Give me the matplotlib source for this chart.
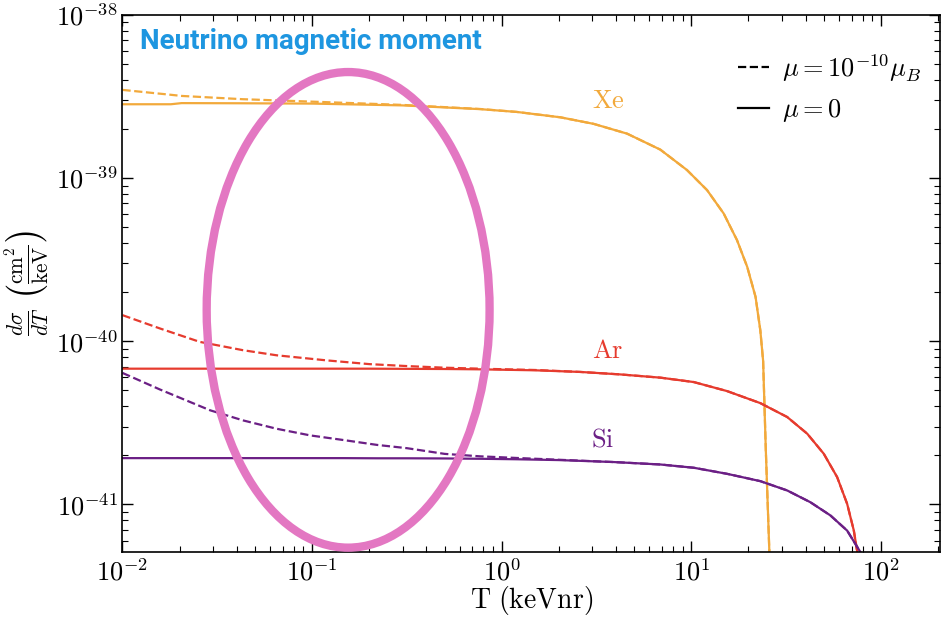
import matplotlib
matplotlib.use("Agg")
import matplotlib.pyplot as plt
from matplotlib.lines import Line2D
from matplotlib.patches import Ellipse
from matplotlib.ticker import FuncFormatter
import numpy as np

plt.rcParams["mathtext.fontset"] = "cm"
plt.rcParams["font.family"] = "serif"
plt.rcParams["font.serif"] = ["DejaVu Serif"]

# recoil energy T (keVnr) and log10(dsigma/dT)
T_xe = [0.01, 0.018, 0.0205, 0.043, 0.1, 0.3, 0.77, 1.2, 2.04, 3.05, 4.58,
        6.86, 9.48, 12.1, 14.8, 17.4, 19.7, 21.8, 23.1, 23.9, 24.7, 25.8, 26.2]
xe_solid = [-38.548, -38.548, -38.541, -38.542, -38.544, -38.555, -38.578,
            -38.595, -38.628, -38.668, -38.728, -38.826, -38.951, -39.074,
            -39.217, -39.380, -39.544, -39.728, -39.933, -40.12, -40.67,
            -41.30, -41.5]
xe_dashed = [-38.46, -38.49, -38.497, -38.517, -38.532, -38.552, -38.577,
             -38.595, -38.628, -38.668, -38.728, -38.826, -38.951, -39.074,
             -39.217, -39.380, -39.544, -39.728, -39.933, -40.12, -40.67,
             -41.30, -41.5]

T_ar = [0.01, 0.0158, 0.0256, 0.0433, 0.065, 0.119, 0.2, 0.316, 0.5, 0.77,
        1.5, 2.6, 4.2, 6.87, 10.3, 15.4, 23.1, 32.0, 40.8, 49.9, 58.7, 66.3,
        71.9, 75.5, 77.0]
ar_solid = [-40.168, -40.168, -40.168, -40.168, -40.168, -40.168, -40.168,
            -40.169, -40.170, -40.172, -40.178, -40.188, -40.203, -40.223,
            -40.25, -40.305, -40.379, -40.464, -40.566, -40.689, -40.832,
            -40.996, -41.160, -41.313, -41.45]
ar_dashed = [-39.84, -39.922, -40.004, -40.055, -40.086, -40.117, -40.14,
             -40.152, -40.162, -40.168, -40.176, -40.188, -40.203, -40.223,
             -40.25, -40.305, -40.379, -40.464, -40.566, -40.689, -40.832,
             -40.996, -41.160, -41.313, -41.45]

T_si = [0.01, 0.0158, 0.029, 0.0433, 0.065, 0.098, 0.146, 0.22, 0.316, 0.5,
        0.77, 1.2, 2.0, 3.89, 6.87, 10.3, 15.4, 23.1, 32.0, 42.4, 54.1, 66.3,
        78.0, 82.0]
si_solid = [-40.716, -40.716, -40.716, -40.716, -40.716, -40.716, -40.716,
            -40.717, -40.717, -40.718, -40.72, -40.723, -40.728, -40.74,
            -40.755, -40.775, -40.812, -40.857, -40.914, -40.986, -41.067,
            -41.16, -41.293, -41.35]
si_dashed = [-40.194, -40.296, -40.423, -40.485, -40.536, -40.577, -40.605,
             -40.635, -40.655, -40.69, -40.705, -40.715, -40.726, -40.74,
             -40.755, -40.775, -40.812, -40.857, -40.914, -40.986, -41.067,
             -41.16, -41.293, -41.35]

colors = {"Xe": "#F2A93B", "Ar": "#E63B2E", "Si": "#6B1F85"}

fig = plt.figure(figsize=(9.42, 6.17), dpi=100)
ax = fig.add_axes([0.130, 0.105, 0.868, 0.871])

series = [("Xe", T_xe, xe_solid, xe_dashed),
          ("Ar", T_ar, ar_solid, ar_dashed),
          ("Si", T_si, si_solid, si_dashed)]
for name, T, solid, dashed in series:
    ax.plot(T, 10.0 ** np.array(solid), color=colors[name], lw=1.6)
    ax.plot(T, 10.0 ** np.array(dashed), color=colors[name], lw=1.6, ls="--")

ax.set_xscale("log")
ax.set_yscale("log")
ax.set_xlim(1e-2, 2.05e2)
ax.set_ylim(5.1e-42, 1e-38)

pow10 = FuncFormatter(lambda v, pos: r"$10^{%d}$" % round(np.log10(v)))
ax.xaxis.set_major_formatter(pow10)
ax.yaxis.set_major_formatter(pow10)

ax.tick_params(which="both", direction="in", top=True, right=True, labelsize=19)
ax.tick_params(which="major", length=8, width=1)
ax.tick_params(which="minor", length=4, width=0.8)
ax.tick_params(axis="x", pad=5)
for s in ax.spines.values():
    s.set_linewidth(1.2)

ax.set_xlabel(r"$\mathrm{T\ (keVnr)}$", fontsize=20, labelpad=-1)
ax.set_ylabel(r"$\frac{d\sigma}{dT}\ \left(\frac{\mathrm{cm}^2}{\mathrm{keV}}\right)$",
              fontsize=22, labelpad=3)

# element labels
ax.text(0.594, 0.840, r"$\mathrm{Xe}$", transform=ax.transAxes, color=colors["Xe"],
        fontsize=19, ha="center", va="center")
ax.text(0.593, 0.376, r"$\mathrm{Ar}$", transform=ax.transAxes, color=colors["Ar"],
        fontsize=19, ha="center", va="center")
ax.text(0.587, 0.210, r"$\mathrm{Si}$", transform=ax.transAxes, color=colors["Si"],
        fontsize=19, ha="center", va="center")

handles = [Line2D([], [], color="black", ls="--", lw=1.6),
           Line2D([], [], color="black", lw=1.6)]
ax.legend(handles, [r"$\mu = 10^{-10}\mu_B$", r"$\mu = 0$"], loc="upper right",
          bbox_to_anchor=(1.01, 0.98), frameon=False, fontsize=19,
          handlelength=1.2, handletextpad=0.5, labelspacing=0.5,
          borderaxespad=0.6)

ax.text(0.021, 0.95, "Neutrino magnetic moment", transform=ax.transAxes,
        family="Roboto", weight="bold", color="#1E96E0", fontsize=20,
        ha="left", va="center")

ell = Ellipse((0.276, 0.451), 0.346, 0.885, transform=ax.transAxes,
              fill=False, edgecolor="#E377C2", lw=6, clip_on=False, zorder=5)
ax.add_patch(ell)

fig.savefig("out.png", dpi=100)
